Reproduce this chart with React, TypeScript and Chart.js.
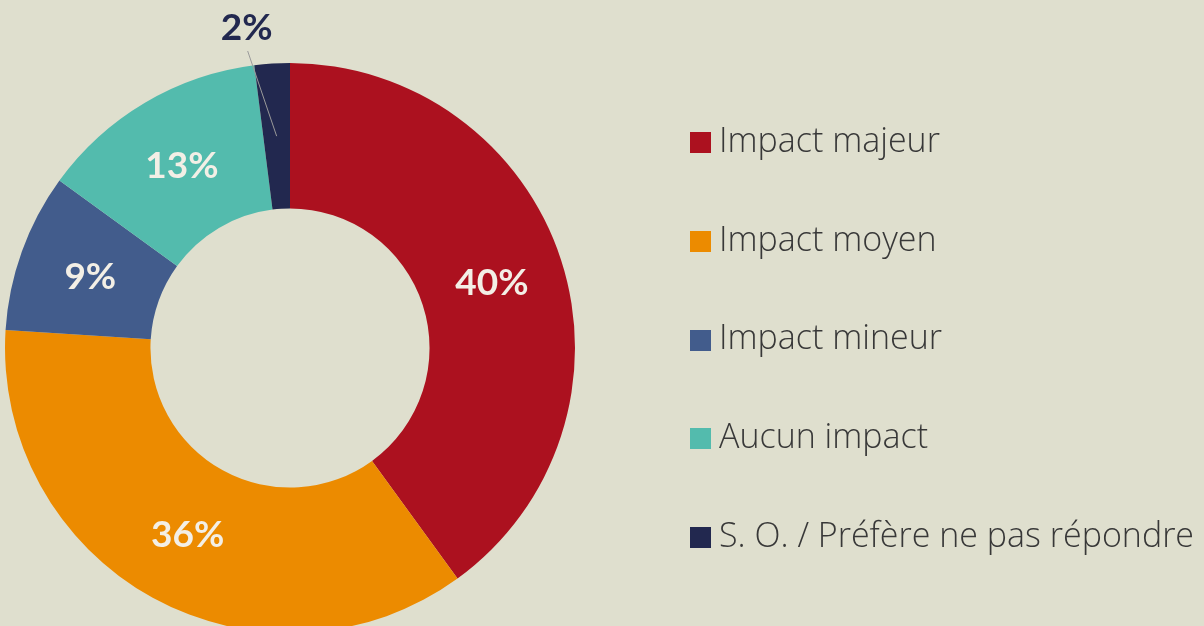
import React, { useEffect, useRef } from "react";
import { Chart, registerables } from "chart.js";

Chart.register(...registerables);

const categories = [
  "Impact majeur",
  "Impact moyen",
  "Impact mineur",
  "Aucun impact",
  "S. O. / Préfère ne pas répondre",
];
const values = [40, 36, 9, 13, 2];
const valueLabels = ["40%", "36%", "9%", "13%", "2%"];
const colors = ["#AC111F", "#EC8B00", "#425C8C", "#53BBAD", "#22284F"];

const BG = "#DFDFCE";
const LABEL_COLOR = "#F3EFE6";

const labelPlugin = {
  id: "sliceLabels",
  afterDatasetsDraw(chart: any) {
    const ctx = chart.ctx;
    const meta = chart.getDatasetMeta(0);
    ctx.save();
    ctx.font = "bold 37px Lato, 'Open Sans', sans-serif";
    ctx.textAlign = "center";
    ctx.textBaseline = "middle";
    meta.data.forEach((arc: any, i: number) => {
      const p = arc.tooltipPosition();
      if (values[i] < 5) {
        const { y, outerRadius } = arc.getProps(["x", "y", "outerRadius"], true);
        const lx = p.x - 30;
        const ly = y - outerRadius - 35;
        ctx.strokeStyle = "#9A9A9A";
        ctx.lineWidth = 1;
        ctx.beginPath();
        ctx.moveTo(p.x, p.y);
        ctx.lineTo(lx + 1, ly + 23);
        ctx.stroke();
        ctx.fillStyle = colors[i];
        ctx.fillText(valueLabels[i], lx, ly);
      } else {
        ctx.fillStyle = LABEL_COLOR;
        ctx.fillText(valueLabels[i], p.x, p.y + 1);
      }
    });
    ctx.restore();
  },
};

export default function App() {
  const ref = useRef<HTMLCanvasElement>(null);
  useEffect(() => {
    if (!ref.current) return;
    const chart = new Chart(ref.current, {
      type: "doughnut",
      data: {
        labels: categories,
        datasets: [
          {
            data: values,
            backgroundColor: colors,
            borderWidth: 0,
            hoverOffset: 0,
          },
        ],
      },
      options: {
        responsive: false,
        animation: false,
        radius: 285,
        cutout: 142,
        layout: { padding: { left: 0, top: 0, right: 624, bottom: 4 } },
        plugins: {
          legend: { display: false },
          tooltip: { enabled: false },
        },
      } as any,
      plugins: [labelPlugin],
    });
    return () => chart.destroy();
  }, []);

  return (
    <div
      style={{
        position: "fixed",
        left: 0,
        top: 0,
        width: 1204,
        height: 626,
        overflow: "hidden",
        background: BG,
      }}
    >
      <canvas ref={ref} width={1204} height={700} style={{ position: "absolute", left: 0, top: 0 }} />
      {categories.map((c, i) => {
        const baseline = 152 + i * 98.75;
        return (
          <React.Fragment key={c}>
            <div
              style={{
                position: "absolute",
                left: 690,
                top: baseline - 20,
                width: 21,
                height: 21,
                background: colors[i],
              }}
            />
            <div
              style={{
                position: "absolute",
                left: 719,
                top: baseline - 30.2,
                height: 34,
                lineHeight: "34px",
                whiteSpace: "nowrap",
                fontFamily: "'Open Sans', sans-serif",
                fontWeight: 300,
                fontSize: 34,
                color: "#383838",
              }}
            >
              {c}
            </div>
          </React.Fragment>
        );
      })}
    </div>
  );
}
